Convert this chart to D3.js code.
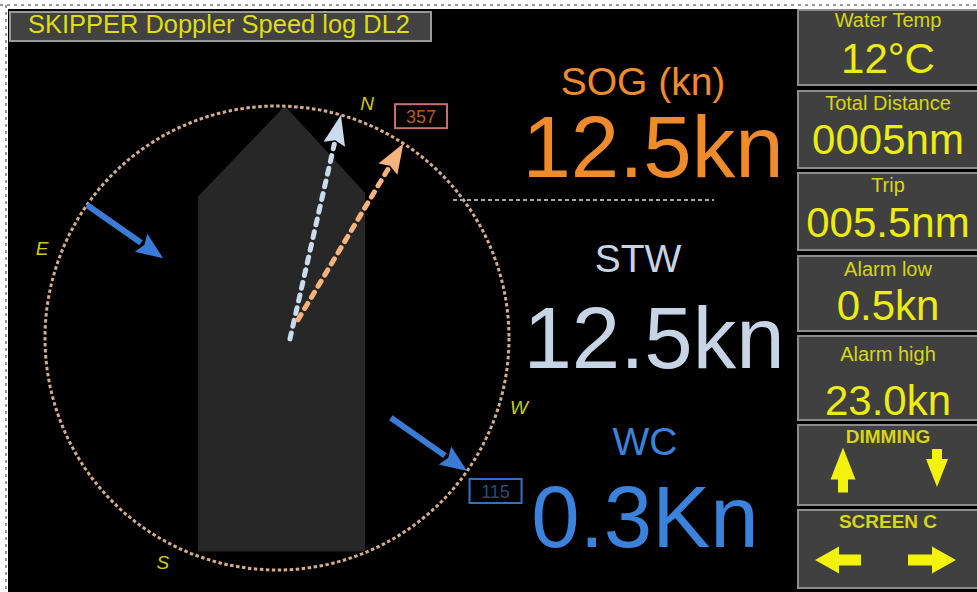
<!DOCTYPE html>
<html>
<head>
<meta charset="utf-8">
<script src="https://cdn.jsdelivr.net/npm/d3@7"></script>
<style>
  body { margin: 0; background: #fff; }
  svg { display: block; font-family: "Liberation Sans", Arial, sans-serif; }
</style>
</head>
<body>
<svg id="screen"></svg>
<script>
// values shown on the display
const titleText = "SKIPPER Doppler Speed log DL2";
const speedLabels = ["SOG (kn)", "STW", "WC"];
const speedValues = ["12.5kn", "12.5kn", "0.3Kn"];
const panelLabels = ["Water Temp", "Total Distance", "Trip", "Alarm low", "Alarm high", "DIMMING", "SCREEN C"];
const panelValues = ["12°C", "0005nm", "005.5nm", "0.5kn", "23.0kn", null, null];
const compassLetters = ["N", "W", "S", "E"];
const compassBearings = [21, 106, 207, 291];
const vectorNames = ["STW", "SOG"];
const vectorTipBearings = [16, 33];
const vectorBaseBearings = [94, 49];
const vectorBaseRadii = [0.056, 0.12];
const headingValue = 357;
const currentValue = 115;
const currentBearing = 125;

const W = 977, H = 592;
const cx = 277, cy = 338, R = 232;

const svg = d3.select("#screen").attr("width", W).attr("height", H);

const rScale = d3.scaleLinear().domain([0, 1]).range([0, R]);
const rad = d => d * Math.PI / 180;
function polar(bearing, r) {
    const [x, y] = d3.pointRadial(rad(bearing), rScale(r));
    return [cx + x, cy + y];
}

// frame
svg.append("line").attr("x1", 0).attr("x2", W).attr("y1", 5).attr("y2", 5)
    .attr("stroke", "#999").attr("stroke-width", 2).attr("stroke-dasharray", "3,4");
svg.append("line").attr("x1", 6).attr("x2", 6).attr("y1", 5).attr("y2", H)
    .attr("stroke", "#999").attr("stroke-width", 2).attr("stroke-dasharray", "3,4");
svg.append("rect").attr("x", 8).attr("y", 9).attr("width", W - 8).attr("height", H - 9).attr("fill", "#000");

// title
svg.append("rect").attr("x", 10).attr("y", 12).attr("width", 421).attr("height", 29)
    .attr("fill", "#424242").attr("stroke", "#9a9a9a").attr("stroke-width", 2);
svg.append("text").attr("x", 28).attr("y", 33)
    .attr("font-size", 25).attr("textLength", 382).attr("lengthAdjust", "spacingAndGlyphs")
    .attr("fill", "#dede10").text(titleText);

// hull (normalised to circle radius)
const hullX = d3.scaleLinear().domain([-1, 1]).range([cx - R, cx + R]);
const hullY = d3.scaleLinear().domain([-1, 1]).range([cy - R, cy + R]);
const hull = [[0.034, -1], [0.38, -0.625], [0.38, 0.92], [-0.34, 0.92], [-0.34, -0.61]];
svg.append("path")
    .attr("d", d3.line().x(d => hullX(d[0])).y(d => hullY(d[1]))(hull) + "Z")
    .attr("fill", "#272727");

// compass ring
svg.append("circle").attr("cx", cx).attr("cy", cy).attr("r", R)
    .attr("fill", "none").attr("stroke", "#d3ad8b").attr("stroke-width", 3)
    .attr("stroke-dasharray", "3.5,2.5");

svg.selectAll(".cardinal").data(compassLetters).join("text")
    .attr("class", "cardinal")
    .attr("x", (d, i) => polar(compassBearings[i], 1.085)[0])
    .attr("y", (d, i) => polar(compassBearings[i], 1.085)[1] + 7)
    .attr("text-anchor", "middle").attr("font-size", 19).attr("font-style", "italic")
    .attr("fill", "#cccc00").text(d => d);

// arrow helper: shaft from p0 to p1, filled triangular head ending at p1
function arrow(g, p0, p1, headLen, headW, color, width, dash) {
    const dx = p1[0] - p0[0], dy = p1[1] - p0[1];
    const len = Math.hypot(dx, dy), ux = dx / len, uy = dy / len;
    const bx = p1[0] - ux * headLen, by = p1[1] - uy * headLen;
    g.append("line").attr("x1", p0[0]).attr("y1", p0[1]).attr("x2", bx).attr("y2", by)
        .attr("stroke", color).attr("stroke-width", width)
        .attr("stroke-dasharray", dash || null).attr("stroke-linecap", dash ? "round" : "butt");
    g.append("path")
        .attr("d", d3.line()([[p1[0], p1[1]],
            [bx - uy * headW / 2, by + ux * headW / 2],
            [bx + ux * 4, by + uy * 4],
            [bx + uy * headW / 2, by - ux * headW / 2]]) + "Z")
        .attr("fill", color);
}

// speed vectors
const vectorColors = { STW: "#c9dbee", SOG: "#f8b37c" };
const vg = svg.append("g");
vectorNames.forEach((name, i) => {
    arrow(vg, polar(vectorBaseBearings[i], vectorBaseRadii[i]), polar(vectorTipBearings[i], 1),
        30, 22, vectorColors[name], 5, "6,7");
});

// current arrows
const curLen = 93 / R;
const cg = svg.append("g");
const c1 = polar(currentBearing + 180, 1);
const [ox, oy] = d3.pointRadial(rad(currentBearing), rScale(curLen));
arrow(cg, c1, [c1[0] + ox, c1[1] + oy], 27, 22, "#3a7bd5", 6);
const c2 = polar(currentBearing, 1);
arrow(cg, [c2[0] - ox, c2[1] - oy], c2, 27, 22, "#3a7bd5", 6);

// value boxes on the ring
function valueBox(p, val, stroke, fill) {
    svg.append("rect").attr("x", p[0] - 26).attr("y", p[1] - 12).attr("width", 52).attr("height", 24)
        .attr("fill", "none").attr("stroke", stroke).attr("stroke-width", 2);
    svg.append("text").attr("x", p[0]).attr("y", p[1] + 7).attr("text-anchor", "middle")
        .attr("font-size", 18).attr("fill", fill).text(val);
}
valueBox(polar(vectorTipBearings[1], 1.14), headingValue, "#c77272", "#b95a1a");
valueBox(polar(currentBearing, 1.15), currentValue, "#3274c4", "#2a4a7c");

// speed readouts
const speedColors = ["#f08b2c", "#c6d4e6", "#3b82dc"];
const labelY = [95, 272, 455], valueY = [177, 368, 547], speedX = [643, 638, 645], valueX = [653, 654, 645];
svg.selectAll(".slabel").data(speedLabels).join("text").attr("class", "slabel")
    .attr("x", (d, i) => speedX[i]).attr("y", (d, i) => labelY[i])
    .attr("text-anchor", "middle").attr("font-size", 39).attr("fill", (d, i) => speedColors[i]).text(d => d);
svg.selectAll(".svalue").data(speedValues).join("text").attr("class", "svalue")
    .attr("x", (d, i) => valueX[i]).attr("y", (d, i) => valueY[i])
    .attr("text-anchor", "middle").attr("font-size", 87).attr("fill", (d, i) => speedColors[i]).text(d => d);
svg.append("line").attr("x1", 453).attr("x2", 714).attr("y1", 200).attr("y2", 200)
    .attr("stroke", "#a8a8a8").attr("stroke-width", 2).attr("stroke-dasharray", "4,3");

// side panels
const panelTop = [10, 91, 173, 256, 336, 425, 510];
const panelBottom = [85, 168, 250, 331, 420, 505, 588];
const panelLabelY = [27, 110, 192, 276, 361, 443, 528];
const panelValueY = [73, 154, 237, 320, 415, null, null];
const px = 888;
const pg = svg.append("g");
panelLabels.forEach((lab, i) => {
    pg.append("rect").attr("x", 798).attr("y", panelTop[i]).attr("width", 190)
        .attr("height", panelBottom[i] - panelTop[i])
        .attr("fill", "#404040").attr("stroke", "#8c8c8c").attr("stroke-width", 2);
    pg.append("text").attr("x", px).attr("y", panelLabelY[i]).attr("text-anchor", "middle")
        .attr("font-size", i >= 5 ? 19 : 20).attr("font-weight", i >= 5 ? "bold" : null)
        .attr("fill", "#d6d614").text(lab);
    if (panelValues[i]) {
        pg.append("text").attr("x", px).attr("y", panelValueY[i]).attr("text-anchor", "middle")
            .attr("font-size", 42).attr("fill", "#ecec10").text(panelValues[i]);
    }
});

// block arrows for DIMMING / SCREEN buttons
function blockArrow(x, y, len, headLen, headW, shaftW, angle) {
    const pts = [[0, -len / 2], [headW / 2, -len / 2 + headLen], [shaftW / 2, -len / 2 + headLen],
        [shaftW / 2, len / 2], [-shaftW / 2, len / 2], [-shaftW / 2, -len / 2 + headLen],
        [-headW / 2, -len / 2 + headLen]];
    pg.append("path").attr("d", d3.line()(pts) + "Z")
        .attr("transform", `translate(${x},${y}) rotate(${angle})`)
        .attr("fill", "#f2f20a");
}
blockArrow(843, 470, 45, 32, 25, 10, 0);
blockArrow(937, 468, 38, 28, 22, 10, 180);
blockArrow(838, 560, 46, 24, 27, 11, -90);
blockArrow(932, 560, 48, 24, 27, 11, 90);
</script>
</body>
</html>
